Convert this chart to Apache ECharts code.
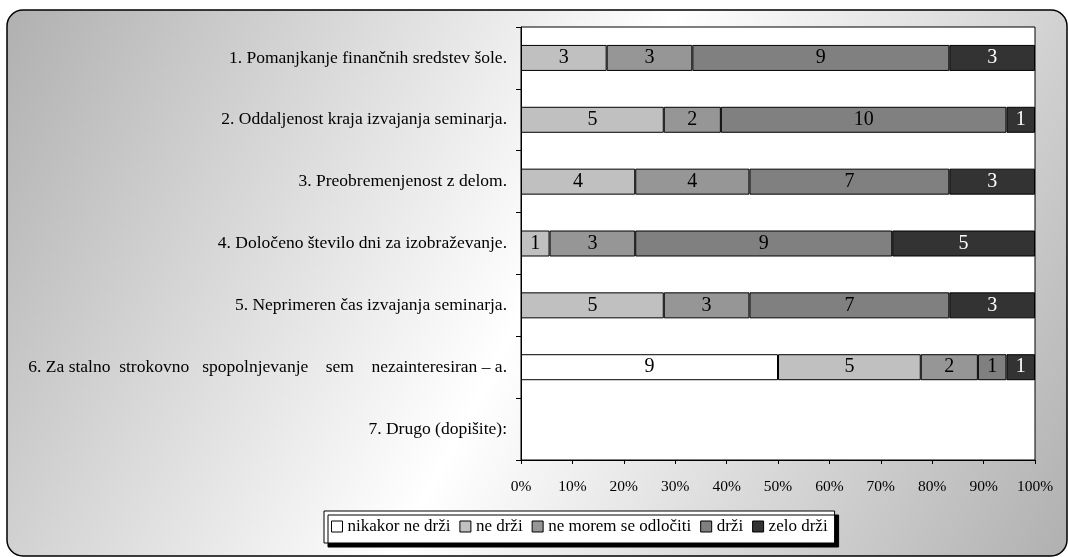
<!DOCTYPE html>
<html>
<head>
<meta charset="utf-8">
<script src="https://cdn.jsdelivr.net/npm/echarts@6/dist/echarts.min.js"></script>
<style>
  html, body { margin: 0; padding: 0; background: #ffffff; }
  #chart { width: 1068px; height: 557px; }
</style>
</head>
<body>
<div id="chart"></div>
<script>
// Reasons for not attending professional training, answers per statement
const categories = [
  '1. Pomanjkanje finančnih sredstev šole.',
  '2. Oddaljenost kraja izvajanja seminarja.',
  '3. Preobremenjenost z delom.',
  '4. Določeno število dni za izobraževanje.',
  '5. Neprimeren čas izvajanja seminarja.',
  '6. Za stalno  strokovno   spopolnjevanje    sem    nezainteresiran – a.',
  '7. Drugo (dopišite):'
];
const seriesNames = ['nikakor ne drži', 'ne drži', 'ne morem se odločiti', 'drži', 'zelo drži'];
const nikakorNeDrzi = [0, 0, 0, 0, 0, 9, 0];
const neDrzi        = [3, 5, 4, 1, 5, 5, 0];
const neMoremSeOdlociti = [3, 2, 4, 3, 3, 2, 0];
const drzi          = [9, 10, 7, 9, 7, 1, 0];
const zeloDrzi      = [3, 1, 3, 5, 3, 1, 0];
const percentTicks  = [0, 10, 20, 30, 40, 50, 60, 70, 80, 90, 100];

const counts = [nikakorNeDrzi, neDrzi, neMoremSeOdlociti, drzi, zeloDrzi];
const fills = ['#ffffff', '#c0c0c0', '#969696', '#808080', '#333333'];
const labelColors = ['#000', '#000', '#000', '#000', '#fff'];
const FONT = '"Liberation Serif", "Times New Roman", serif';

const totals = categories.map((_, i) => counts.reduce((s, arr) => s + arr[i], 0));

const series = seriesNames.map((name, k) => ({
  name,
  type: 'bar',
  stack: 'share',
  barWidth: 26,
  data: counts[k].map((c, i) => (c > 0 && totals[i] > 0)
    ? { value: c / totals[i] * 100, count: c }
    : '-'),
  itemStyle: { color: fills[k], borderColor: '#000', borderWidth: 1 },
  label: {
    show: true,
    position: 'inside',
    formatter: p => p.data.count,
    color: labelColors[k],
    fontFamily: FONT,
    fontSize: 20
  }
}));

const chart = echarts.init(document.getElementById('chart'), null, { renderer: 'canvas' });
chart.setOption({
  animation: false,
  graphic: [{
    type: 'rect',
    z: -10,
    shape: { x: 7, y: 10, width: 1060, height: 546, r: 16 },
    style: {
      fill: new echarts.graphic.LinearGradient(0, 0, 1, 1, [
        { offset: 0, color: '#b0b0b0' },
        { offset: 0.5, color: '#ffffff' },
        { offset: 1, color: '#b0b0b0' }
      ]),
      stroke: '#000',
      lineWidth: 1.5
    }
  }],
  grid: {
    left: 521, right: 33, top: 27, bottom: 97,
    show: true, backgroundColor: '#ffffff', borderColor: '#000', borderWidth: 1
  },
  legend: {
    data: seriesNames,
    left: 324, top: 511,
    orient: 'horizontal',
    icon: 'rect',
    itemWidth: 11, itemHeight: 11,
    itemGap: 9,
    padding: [7, 7, 8, 7],
    backgroundColor: '#ffffff',
    borderColor: '#000', borderWidth: 1,
    shadowColor: '#000', shadowBlur: 0, shadowOffsetX: 4, shadowOffsetY: 4,
    itemStyle: { borderColor: '#000', borderWidth: 1 },
    textStyle: { fontFamily: FONT, fontSize: 17, color: '#000' }
  },
  xAxis: {
    type: 'value',
    min: percentTicks[0], max: percentTicks[percentTicks.length - 1],
    interval: percentTicks[1] - percentTicks[0],
    axisLine: { show: true, lineStyle: { color: '#000', width: 1 } },
    axisTick: { show: true, length: 4, lineStyle: { color: '#000' } },
    splitLine: { show: false },
    axisLabel: { formatter: '{value}%', fontFamily: FONT, fontSize: 15.5, color: '#000', margin: 19 }
  },
  yAxis: {
    type: 'category',
    inverse: true,
    data: categories,
    axisLine: { show: true, lineStyle: { color: '#000', width: 1 } },
    axisTick: { show: true, length: 5, lineStyle: { color: '#000' } },
    axisLabel: { fontFamily: FONT, fontSize: 17.5, color: '#000', margin: 14 }
  },
  series
});
</script>
</body>
</html>
